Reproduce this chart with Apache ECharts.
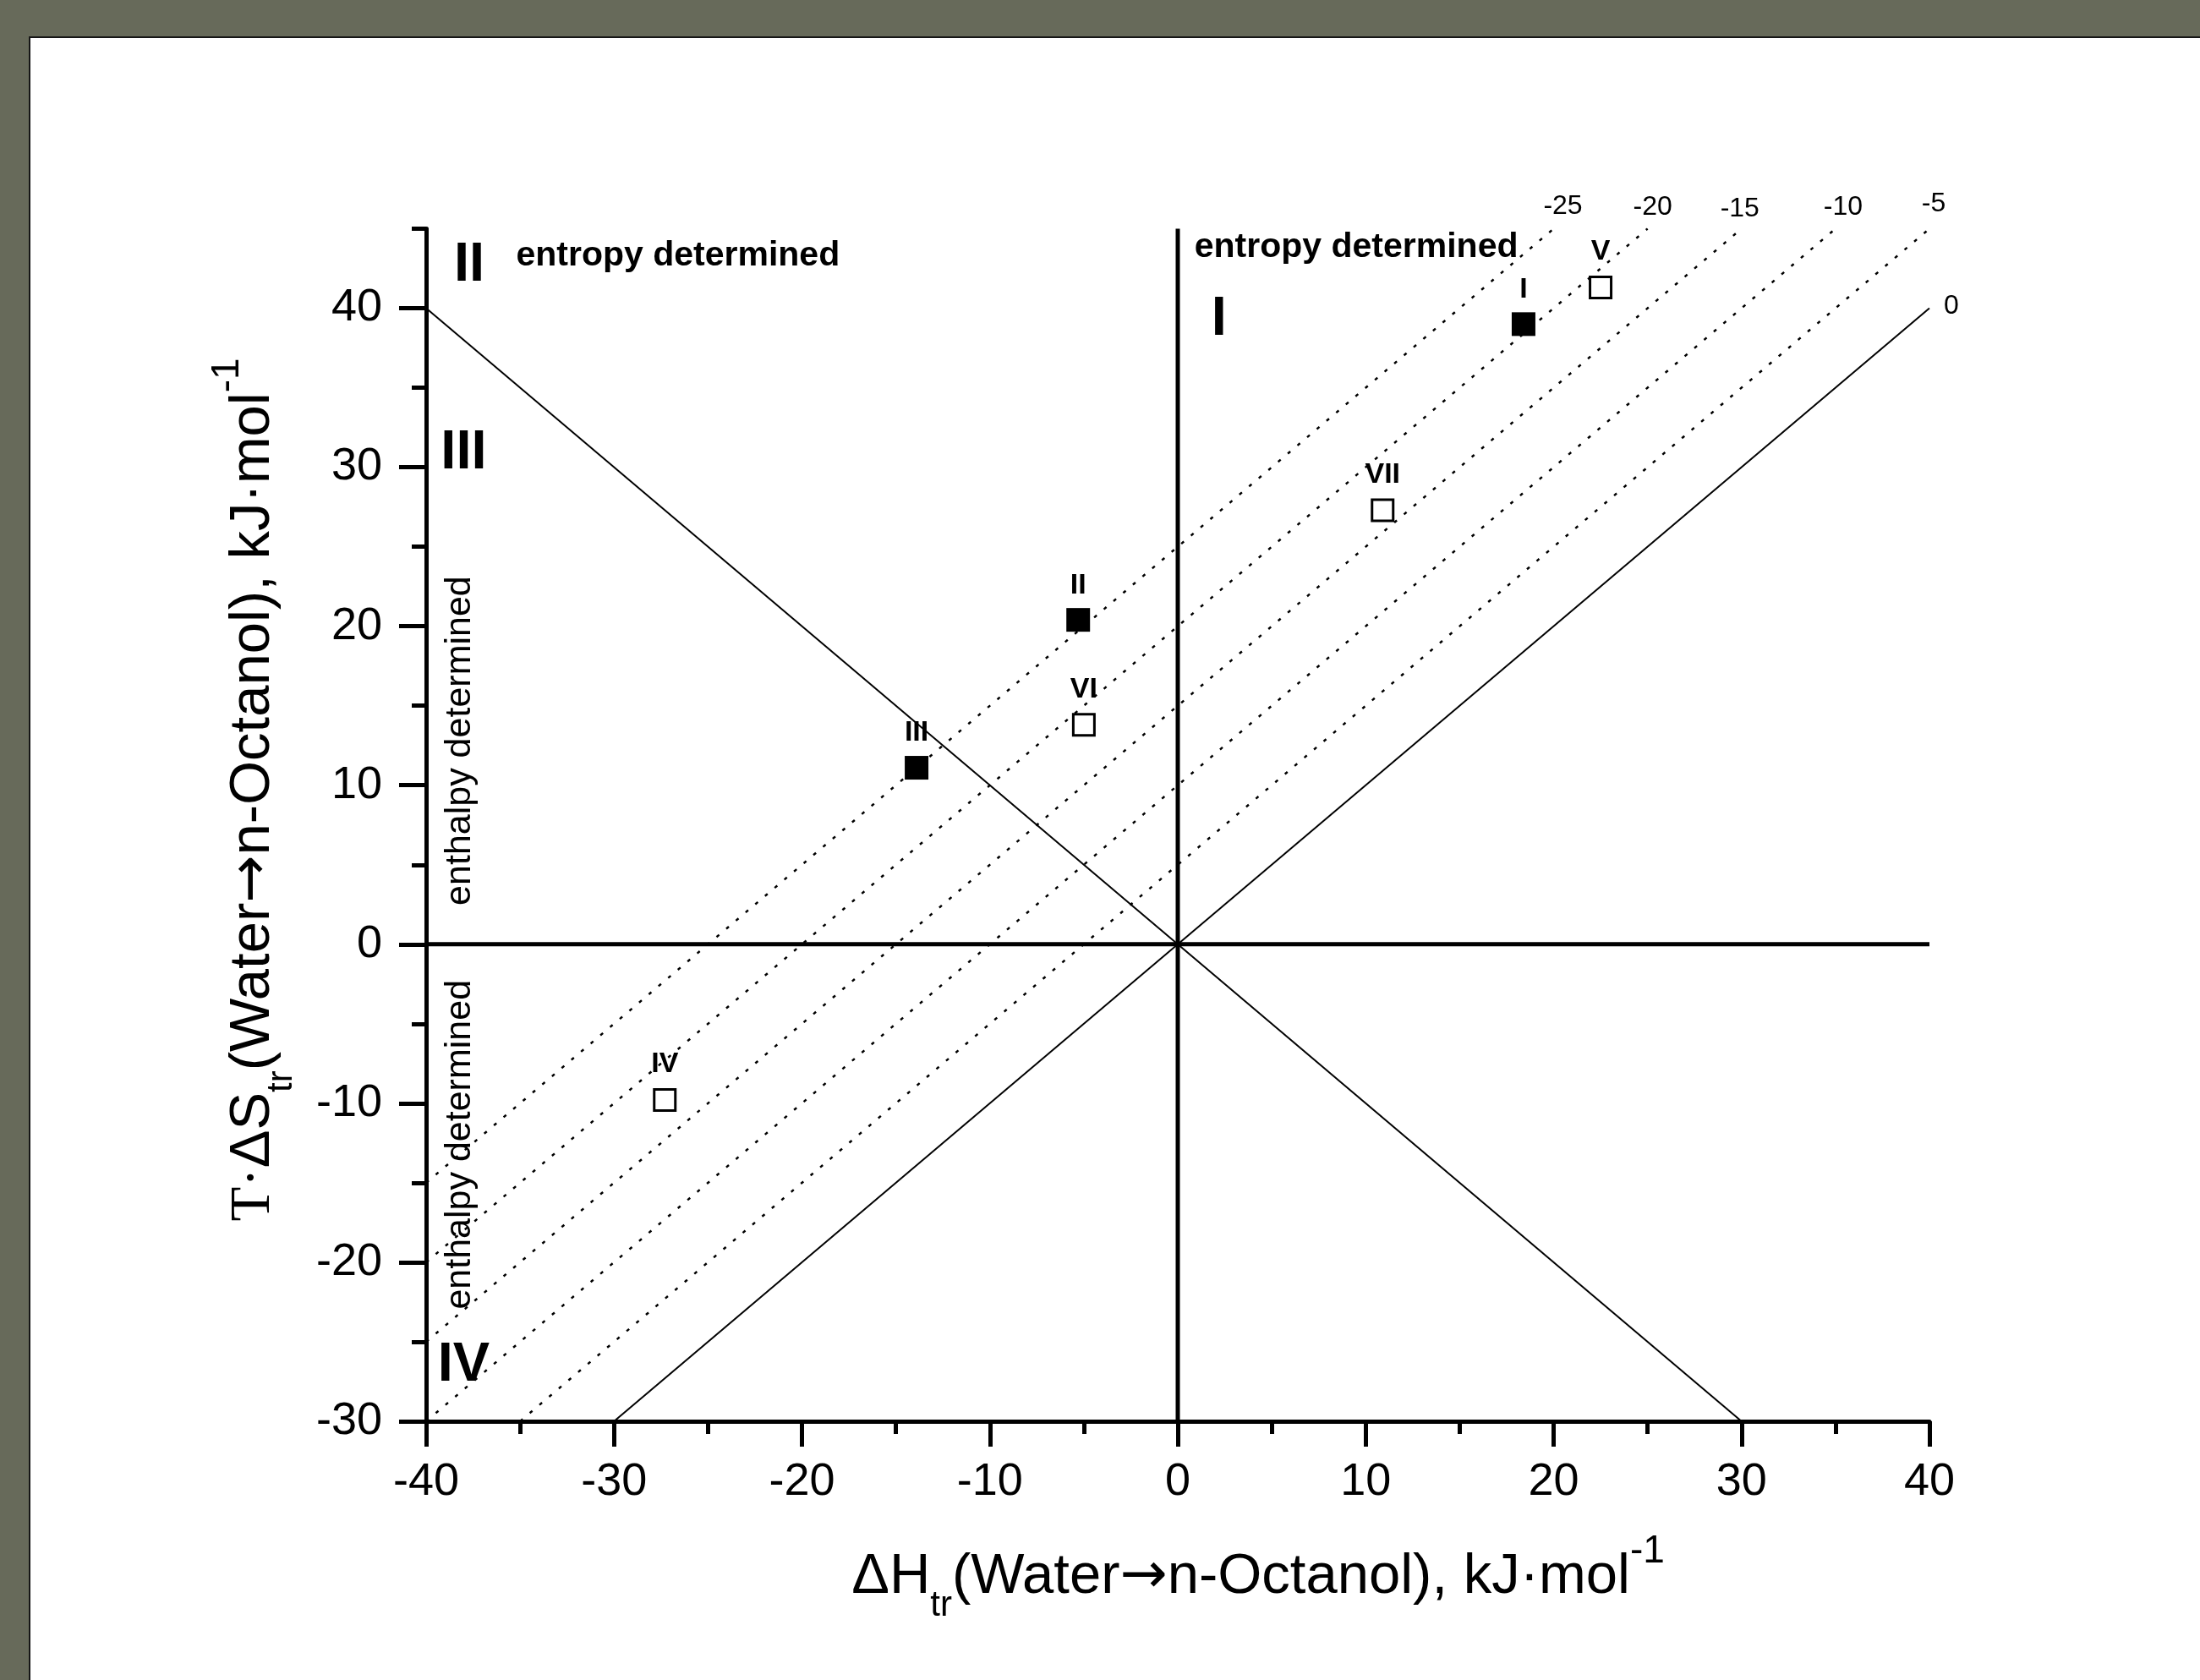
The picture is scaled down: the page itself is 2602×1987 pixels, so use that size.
<!DOCTYPE html>
<html>
<head>
<meta charset="utf-8">
<script src="https://cdn.jsdelivr.net/npm/echarts@6/dist/echarts.min.js"></script>
<style>
    html, body { margin: 0; padding: 0; width: 2602px; height: 1987px; overflow: hidden; background: #676a5a; }
    #panel { position: absolute; left: 34px; top: 43px; width: 2600px; height: 1960px; background: #fff; border: 2px solid #161616; }
    #chart { position: absolute; left: 0; top: 0; width: 2602px; height: 1987px; }
</style>
</head>
<body>
<div id="panel"></div>
<div id="chart"></div>
<script>
const FONT = "'Liberation Sans', Arial, sans-serif";

// ΔG iso-lines (dotted), kJ/mol
const dgLevels = ['-25', '-20', '-15', '-10', '-5'];
const dgStart = [[-40, -15], [-40, -20], [-40, -25], [-40, -30], [-35, -30]];
const dgEnd = [[20, 45], [25, 45], [30, 45], [35, 45], [40, 45]];

// solid guide lines
const zeroLine = [[-30, -30], [40, 40]];   // ΔG = 0
const compLine = [[-40, 40], [30, -30]];   // TΔS = -ΔH
const hLine = [[-40, 0], [40, 0]];
const vLine = [[0, -30], [0, 45]];

// compounds
const filledNames = ['I', 'II', 'III'];
const filledDH = [18.4, -5.3, -13.9];
const filledTdS = [39.0, 20.4, 11.1];
const openNames = ['IV', 'V', 'VI', 'VII'];
const openDH = [-27.3, 22.5, -5.0, 10.9];
const openTdS = [-9.8, 41.3, 13.8, 27.3];

// ticks
const yMajor = [-30, -20, -10, 0, 10, 20, 30, 40];

// captions, anchored in data units
const quadNames = ['I', 'II', 'III', 'IV'];
const quadAt = [[2.2, 39.3], [-37.7, 42.7], [-38.0, 30.9], [-38.0, -26.5]];
const captionText = ['entropy determined', 'entropy determined', 'enthalpy determined', 'enthalpy determined'];
const captionAt = [[-26.6, 43.3], [9.5, 43.8], [-38.2, 12.8], [-38.2, -12.6]];

// labels at the upper ends of the ΔG lines
const lineLabelNames = dgLevels.concat(['0']);
const lineLabelAt = dgEnd.concat([zeroLine[1]]);
const labelNudge = [[11, -26], [6, -25], [-2, -23], [9, -25], [5, -29], [26, -2]];

const chart = echarts.init(document.getElementById('chart'));

const black = '#000';

const dottedSeries = dgLevels.map((lv, i) => ({
    name: 'ΔG ' + lv,
    type: 'line',
    data: [dgStart[i], dgEnd[i]],
    symbol: 'none',
    silent: true,
    lineStyle: { color: black, width: 2.5, type: [4, 11] }
}));

function solid(name, data, width) {
    return {
        name: name,
        type: 'line',
        data: data,
        symbol: 'none',
        silent: true,
        lineStyle: { color: black, width: width, type: 'solid' }
    };
}

const captionData = [];
quadNames.forEach((n, i) => captionData.push({
    name: n,
    value: quadAt[i],
    label: { fontSize: 65, fontWeight: 'bold' }
}));
captionText.forEach((t, i) => captionData.push({
    name: t,
    value: captionAt[i],
    label: i < 2
        ? { fontSize: 41, fontWeight: 'bold' }
        : { fontSize: 43, fontWeight: 'normal', rotate: 90 }
}));

const rich = {
    m: { fontSize: 67, lineHeight: 108, fontFamily: FONT, color: black },
    ar: { fontSize: 67, lineHeight: 108, fontFamily: "'DejaVu Sans', sans-serif", color: black },
    t: { fontSize: 67, lineHeight: 108, fontFamily: "'Liberation Serif', serif", color: black },
    sub: { fontSize: 42, lineHeight: 41, verticalAlign: 'bottom', fontFamily: FONT, color: black },
    sup: { fontSize: 46, lineHeight: 72, verticalAlign: 'top', fontFamily: FONT, color: black }
};

const hiddenDot = { color: 'rgba(0,0,0,0)', opacity: 1 };

chart.setOption({
    animation: false,
    backgroundColor: 'transparent',
    textStyle: { fontFamily: FONT, color: black },
    grid: { left: 504, right: 320, top: 270.5, bottom: 306, outerBoundsMode: 'none' },
    xAxis: {
        type: 'value',
        min: -40, max: 40, interval: 10,
        axisLine: { onZero: false, lineStyle: { color: black, width: 5 } },
        axisTick: { length: 30, lineStyle: { color: black, width: 5 } },
        minorTick: { show: true, splitNumber: 2, length: 15, lineStyle: { color: black, width: 5 } },
        splitLine: { show: false },
        axisLabel: { fontSize: 54, fontFamily: FONT, color: black, margin: 45 }
    },
    yAxis: [
        {
            type: 'value', position: 'left',
            min: -30, max: 45, interval: 5,
            axisLine: { onZero: false, lineStyle: { color: black, width: 5 } },
            axisTick: { length: 17, lineStyle: { color: black, width: 5 } },
            splitLine: { show: false },
            axisLabel: {
                fontSize: 54, fontFamily: FONT, color: black, margin: 52,
                formatter: v => (v % 10 === 0 ? String(v) : '')
            }
        },
        {
            type: 'value', position: 'left', offset: 0,
            min: -30, max: 45, interval: 10,
            axisLine: { show: false, onZero: false },
            axisTick: { show: true, length: 32, customValues: yMajor, lineStyle: { color: black, width: 5 } },
            axisLabel: { show: false },
            splitLine: { show: false }
        }
    ],
    graphic: [
        {
            type: 'text', x: 1488, y: 1866, silent: true,
            style: {
                text: '{m|ΔH}{sub|tr}{m|(Water}{ar|→}{m|n-Octanol), kJ·mol}{sup|-1}',
                rich: rich, align: 'center', verticalAlign: 'middle'
            }
        },
        {
            type: 'text', x: 300, y: 934, rotation: Math.PI / 2, silent: true,
            style: {
                text: '{t|T·}{m|ΔS}{sub|tr}{m|(Water}{ar|→}{m|n-Octanol), kJ·mol}{sup|-1}',
                rich: rich, align: 'center', verticalAlign: 'middle'
            }
        }
    ],
    series: [
        ...dottedSeries,
        solid('ΔG 0', zeroLine, 2),
        solid('compensation', compLine, 2),
        solid('TΔS = 0', hLine, 5),
        solid('ΔH = 0', vLine, 5),
        {
            name: 'line labels',
            type: 'scatter',
            silent: true,
            symbol: 'circle',
            symbolSize: 1,
            itemStyle: hiddenDot,
            data: lineLabelNames.map((n, i) => ({
                name: n,
                value: lineLabelAt[i],
                label: { offset: labelNudge[i] }
            })),
            label: {
                show: true, position: 'inside', formatter: '{b}',
                fontSize: 32, fontFamily: FONT, color: black
            }
        },
        {
            name: 'captions',
            type: 'scatter',
            silent: true,
            symbol: 'circle',
            symbolSize: 1,
            itemStyle: hiddenDot,
            data: captionData,
            label: {
                show: true, position: 'inside', formatter: '{b}',
                fontFamily: FONT, color: black
            }
        },
        {
            name: 'filled',
            type: 'scatter',
            symbol: 'rect',
            symbolSize: 28,
            itemStyle: { color: black, opacity: 1 },
            data: filledDH.map((x, i) => ({ name: filledNames[i], value: [x, filledTdS[i]] })),
            label: {
                show: true, position: 'top', distance: 10, formatter: '{b}',
                fontSize: 34, fontWeight: 'bold', fontFamily: FONT, color: black
            }
        },
        {
            name: 'open',
            type: 'scatter',
            symbol: 'rect',
            symbolSize: 25,
            itemStyle: { color: '#fff', borderColor: black, borderWidth: 3, opacity: 1 },
            data: openDH.map((x, i) => ({ name: openNames[i], value: [x, openTdS[i]] })),
            label: {
                show: true, position: 'top', distance: 11, formatter: '{b}',
                fontSize: 34, fontWeight: 'bold', fontFamily: FONT, color: black
            }
        }
    ]
});
</script>
</body>
</html>
